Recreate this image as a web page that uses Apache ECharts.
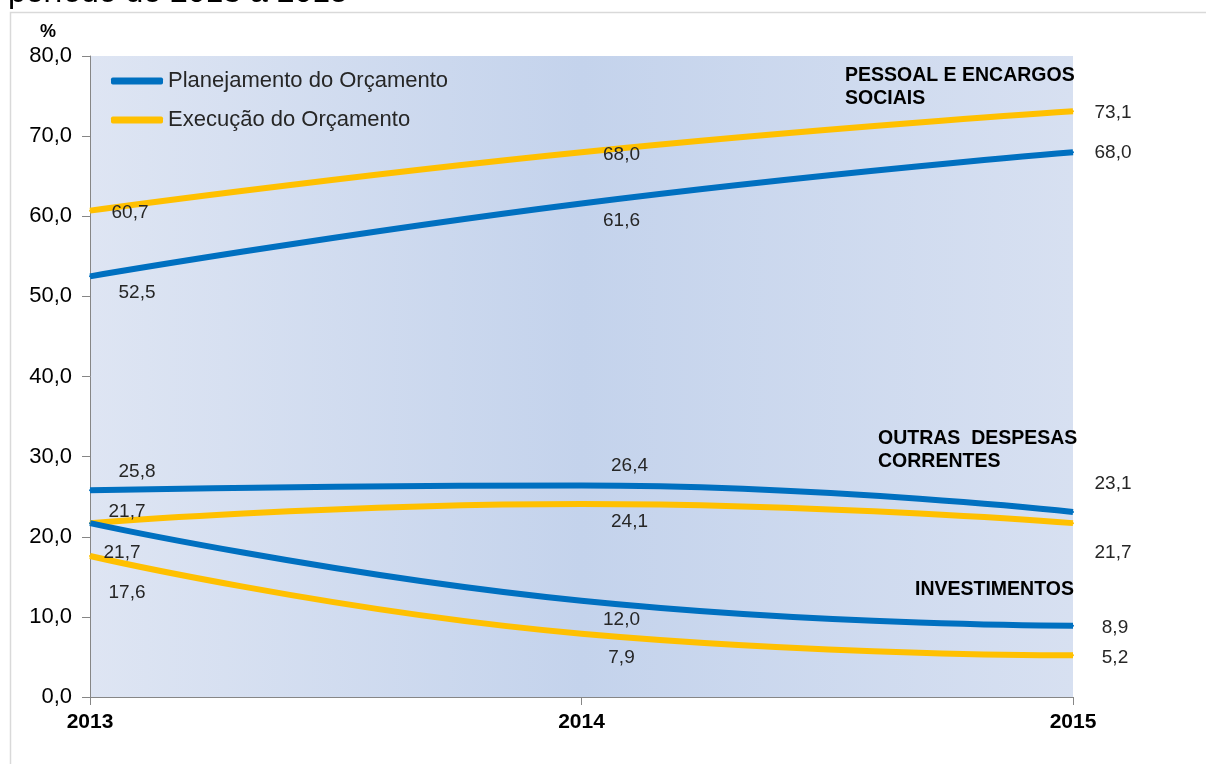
<!DOCTYPE html>
<html>
<head>
<meta charset="utf-8">
<script src="https://cdn.jsdelivr.net/npm/echarts@6/dist/echarts.min.js"></script>
<style>
  html, body { margin: 0; padding: 0; background: #fff; }
  #chart { width: 1206px; height: 764px; }
</style>
</head>
<body>
<div id="chart"></div>
<script>
var years = ['2013', '2014', '2015'];

// Pessoal e encargos sociais
var pessoalPlan = [52.5, 61.6, 68.0];
var pessoalExec = [60.7, 68.0, 73.1];
// Outras despesas correntes
var outrasPlan = [25.8, 26.4, 23.1];
var outrasExec = [21.7, 24.1, 21.7];
// Investimentos
var investPlan = [21.7, 12.0, 8.9];
var investExec = [17.6, 7.9, 5.2];

var PLAN = 'Planejamento do Orçamento';
var EXEC = 'Execução do Orçamento';
var BLUE = '#0070c0';
var YELLOW = '#ffc000';
var FONT = '"Liberation Sans", Arial, sans-serif';

// label offsets (dx, dy from the point), one per year
var offsets = {
    pessoalPlan: [[47, 16], [40, 17], [40, 1]],
    pessoalExec: [[40, 2], [40, 3], [40, 1]],
    outrasPlan: [[47, -19], [48, -20], [40, -28]],
    outrasExec: [[37, -11], [48, 18], [40, 30]],
    investPlan: [[32, 30], [40, 19], [42, 2]],
    investExec: [[37, 37], [40, 24], [42, 2]]
};

function fmt(v) {
    return v.toFixed(1).replace('.', ',');
}

function makeSeries(name, color, values, offs) {
    return {
        name: name,
        type: 'line',
        smooth: true,
        symbol: 'circle',
        symbolSize: 2,
        showSymbol: true,
        lineStyle: { color: color, width: 6 },
        itemStyle: { color: color },
        data: values.map(function (v, i) {
            return {
                value: v,
                label: {
                    show: true,
                    position: 'inside',
                    offset: offs[i],
                    formatter: fmt(v),
                    color: '#262626',
                    fontSize: 19,
                    fontFamily: FONT
                }
            };
        })
    };
}

var dom = document.getElementById('chart');
var myChart = echarts.init(dom);

var option = {
    animation: false,
    backgroundColor: '#fff',
    grid: {
        left: 90,
        right: 133,
        top: 56,
        bottom: 67,
        show: true,
        borderWidth: 0,
        backgroundColor: new echarts.graphic.LinearGradient(0, 0, 1, 0, [
            { offset: 0, color: '#dee5f3' },
            { offset: 0.5, color: '#c4d3ec' },
            { offset: 1, color: '#d7e0f1' }
        ])
    },
    legend: {
        orient: 'vertical',
        left: 106,
        top: 65,
        itemGap: 17,
        itemWidth: 52,
        itemHeight: 7,
        icon: 'roundRect',
        data: [
            { name: PLAN, itemStyle: { color: BLUE } },
            { name: EXEC, itemStyle: { color: YELLOW } }
        ],
        textStyle: { fontSize: 22, color: '#262626', fontFamily: FONT }
    },
    xAxis: {
        type: 'category',
        data: years,
        boundaryGap: false,
        axisLine: { lineStyle: { color: '#868686', width: 1 } },
        axisTick: { show: true, length: 8, lineStyle: { color: '#868686' } },
        axisLabel: {
            fontSize: 21, fontWeight: 'bold', color: '#000', fontFamily: FONT, margin: 15
        }
    },
    yAxis: {
        type: 'value',
        min: 0,
        max: 80,
        interval: 10,
        splitLine: { show: false },
        axisLine: { show: true, lineStyle: { color: '#868686', width: 1 } },
        axisTick: { show: true, length: 8, lineStyle: { color: '#868686' } },
        axisLabel: {
            fontSize: 22, color: '#000', fontFamily: FONT, margin: 18,
            formatter: function (v) { return fmt(v); }
        }
    },
    graphic: [
        {
            type: 'rect',
            left: 8, top: 10,
            shape: { width: 1300, height: 900 },
            style: { fill: 'none', stroke: '#d9d9d9', lineWidth: 1.5 },
            silent: true
        },
        {
            type: 'text',
            left: 8, top: -23,
            style: { text: 'período de 2013 a 2015', fill: '#000', font: '32px "Liberation Sans", Arial, sans-serif' }
        },
        {
            type: 'text',
            left: 40, top: 23,
            style: { text: '%', fill: '#000', font: 'bold 18px "Liberation Sans", Arial, sans-serif' }
        },
        {
            type: 'text',
            left: 845, top: 64,
            style: {
                text: 'PESSOAL E ENCARGOS\nSOCIAIS', fill: '#000', lineHeight: 23,
                font: 'bold 19.5px "Liberation Sans", Arial, sans-serif'
            }
        },
        {
            type: 'text',
            left: 878, top: 427,
            style: {
                text: 'OUTRAS  DESPESAS\nCORRENTES', fill: '#000', lineHeight: 23,
                font: 'bold 19.5px "Liberation Sans", Arial, sans-serif'
            }
        },
        {
            type: 'text',
            left: 915, top: 580,
            style: {
                text: 'INVESTIMENTOS', fill: '#000',
                font: 'bold 19.5px "Liberation Sans", Arial, sans-serif'
            }
        }
    ],
    series: [
        makeSeries(PLAN, BLUE, pessoalPlan, offsets.pessoalPlan),
        makeSeries(EXEC, YELLOW, pessoalExec, offsets.pessoalExec),
        makeSeries(PLAN, BLUE, outrasPlan, offsets.outrasPlan),
        makeSeries(EXEC, YELLOW, outrasExec, offsets.outrasExec),
        makeSeries(PLAN, BLUE, investPlan, offsets.investPlan),
        makeSeries(EXEC, YELLOW, investExec, offsets.investExec)
    ]
};

myChart.setOption(option);
</script>
</body>
</html>
